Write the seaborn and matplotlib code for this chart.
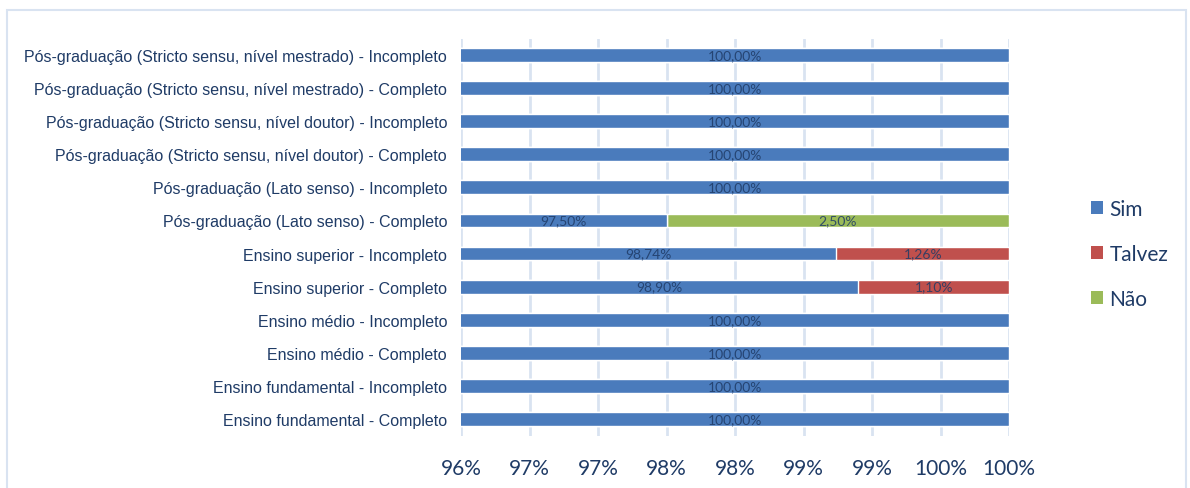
import seaborn as sns
import matplotlib.pyplot as plt
from matplotlib.patches import Rectangle, Patch
import pandas as pd
import numpy as np

categories = [
    "Pós-graduação (Stricto sensu, nível mestrado) - Incompleto",
    "Pós-graduação (Stricto sensu, nível mestrado) - Completo",
    "Pós-graduação (Stricto sensu, nível doutor) - Incompleto",
    "Pós-graduação (Stricto sensu, nível doutor) - Completo",
    "Pós-graduação (Lato senso) - Incompleto",
    "Pós-graduação (Lato senso) - Completo",
    "Ensino superior - Incompleto",
    "Ensino superior - Completo",
    "Ensino médio - Incompleto",
    "Ensino médio - Completo",
    "Ensino fundamental - Incompleto",
    "Ensino fundamental - Completo",
]
sim = [100.0, 100.0, 100.0, 100.0, 100.0, 97.50, 98.74, 98.90, 100.0, 100.0, 100.0, 100.0]
talvez = [0, 0, 0, 0, 0, 0, 1.26, 1.10, 0, 0, 0, 0]
nao = [0, 0, 0, 0, 0, 2.50, 0, 0, 0, 0, 0, 0]
series = ["Sim", "Talvez", "Não"]
x_ticks = [96, 96.5, 97, 97.5, 98, 98.5, 99, 99.5, 100]

colors = {"Sim": "#4A7BBC", "Talvez": "#C0504D", "Não": "#9BBB59"}
text_color = "#1F3B66"
grid_color = "#D9E3F1"
xmin, xmax = 96, 100

sns.set_theme(style="white")
plt.rcParams['font.family'] = ['Liberation Sans', 'DejaVu Sans']

df = pd.DataFrame({"cat": categories, "Sim": sim, "Talvez": talvez, "Não": nao})
df["c_sim"] = df["Sim"]
df["c_talvez"] = df["Sim"] + df["Talvez"]
df["c_nao"] = df["c_talvez"] + df["Não"]

fig = plt.figure(figsize=(11.9, 4.89), dpi=100)
ax = fig.add_axes([461 / 1190, 1 - 436.5 / 489, 548 / 1190, 397 / 489])

# stacked bars: draw cumulative totals back to front
for col, name in [("c_nao", "Não"), ("c_talvez", "Talvez"), ("c_sim", "Sim")]:
    sns.barplot(data=df, x=col, y="cat", orient="h", color=colors[name],
                width=0.42, saturation=1, ax=ax, zorder=3)

ax.set_xlim(xmin, xmax)
ax.set_ylim(len(categories) - 0.5, -0.5)
ax.set_xticks(x_ticks)
ax.set_xticklabels([f"{int(np.floor(t + 0.5))}%" for t in x_ticks],
                   fontfamily="Lato", fontsize=15, color=text_color)
ax.tick_params(axis="x", length=0, pad=16)
ax.tick_params(axis="y", length=0, pad=10, labelsize=11.5, labelcolor=text_color)
ax.set_xlabel("")
ax.set_ylabel("")
for s in ax.spines.values():
    s.set_visible(False)
ax.grid(axis="x", color=grid_color, lw=2, zorder=0)
ax.set_axisbelow(True)

# data labels centred on visible part of each segment
for i in range(len(categories)):
    start = 0
    for name in series:
        v = df.loc[i, name]
        end = start + v
        if v > 0:
            lo, hi = max(start, xmin), min(end, xmax)
            if hi > lo:
                ax.text((lo + hi) / 2, i, f"{v:.2f}".replace(".", ",") + "%",
                        ha="center", va="center", fontsize=10, fontfamily="Lato",
                        color=text_color, alpha=0.85, zorder=5)
        start = end

handles = [Patch(facecolor=colors[n], edgecolor="none") for n in series]
leg = fig.legend(handles, series, loc="center left",
                 bbox_to_anchor=(1072 / 1190, 1 - 255 / 489),
                 frameon=False, prop={"family": "Lato", "size": 15},
                 handlelength=0.6, handleheight=0.6, handletextpad=0.3,
                 labelspacing=1.2)
for t in leg.get_texts():
    t.set_color(text_color)

fig.patches.append(Rectangle((7 / 1190, -0.05), 1179 / 1190, 1.05 - 11 / 489,
                             transform=fig.transFigure, fill=False,
                             edgecolor=grid_color, lw=1.5))

fig.savefig("out.png", dpi=100, facecolor="white")
